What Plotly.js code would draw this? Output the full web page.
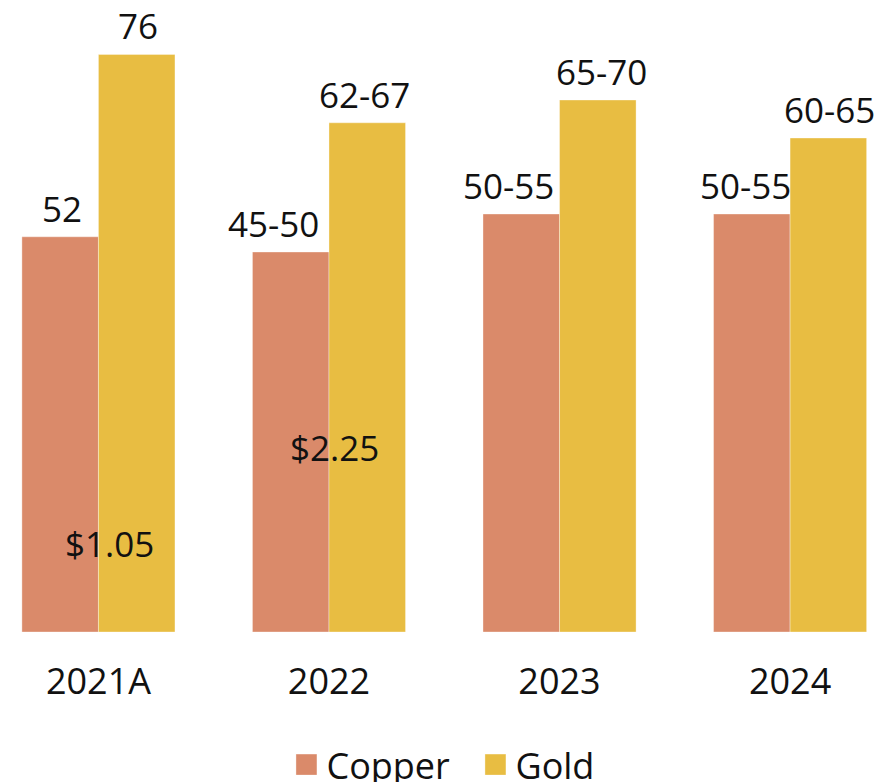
<!DOCTYPE html>
<html>
<head>
<meta charset="utf-8">
<script src="https://cdn.plot.ly/plotly-3.0.1.min.js"></script>
<style>
html,body{margin:0;padding:0;background:#fff;}
#chart{width:874px;height:782px;}
</style>
</head>
<body>
<div id="chart"></div>
<script>
const categories = ["2021A", "2022", "2023", "2024"];
const copperValues = [52, 50, 55, 55];
const goldValues = [76, 67, 70, 65];
const copperLabels = ["52", "45-50", "50-55", "50-55"];
const goldLabels = ["76", "62-67", "65-70", "60-65"];
const noteTexts = ["$1.05", "$2.25"];

const FONT = "Open Sans, Noto Sans, sans-serif";
const COPPER = "#DA8A6A";
const GOLD = "#E8BD42";
const TXT = "#111";
const BARGAP = 0.336;
const HALF = (1 - BARGAP) / 4;   // offset of each bar centre from the category centre

// small horizontal nudges (px) of the value labels, as placed in the original
const copperNudge = [2, -17, -13, -6];
const goldNudge = [1, -3, 4, 1];

const traces = [
  {
    type: "bar", name: "Copper", x: categories, y: copperValues,
    marker: {color: COPPER, line: {color: "rgba(255,255,255,0.35)", width: 1}},
    hoverinfo: "x+y"
  },
  {
    type: "bar", name: "Gold", x: categories, y: goldValues,
    marker: {color: GOLD, line: {color: "rgba(255,255,255,0.35)", width: 1}},
    hoverinfo: "x+y"
  }
];

const annotations = [];
categories.forEach((c, i) => {
  annotations.push({x: i - HALF, y: copperValues[i], xref: "x", yref: "y", text: copperLabels[i],
    showarrow: false, yanchor: "bottom", xshift: copperNudge[i], yshift: 3,
    font: {family: FONT, size: 35, color: TXT}});
  annotations.push({x: i + HALF, y: goldValues[i], xref: "x", yref: "y", text: goldLabels[i],
    showarrow: false, yanchor: "bottom", xshift: goldNudge[i], yshift: 3,
    font: {family: FONT, size: 35, color: TXT}});
});
annotations.push({x: 0.05, y: 11.7, xref: "x", yref: "y", text: noteTexts[0], showarrow: false,
  font: {family: FONT, size: 35, color: TXT}});
annotations.push({x: 1.022, y: 24.3, xref: "x", yref: "y", text: noteTexts[1], showarrow: false,
  font: {family: FONT, size: 35, color: TXT}});

const layout = {
  width: 874, height: 782,
  margin: {l: 0, r: 0, t: 0, b: 150, autoexpand: false},
  paper_bgcolor: "#fff", plot_bgcolor: "#fff",
  font: {family: FONT, color: TXT},
  barmode: "group", bargap: BARGAP, bargroupgap: 0,
  xaxis: {
    type: "category", range: [-0.427, 3.364], showgrid: false, zeroline: false,
    showline: false, ticks: "", tickfont: {family: FONT, size: 36, color: TXT},
    ticklabelstandoff: 25
  },
  yaxis: {range: [0, 83.16], visible: false, showgrid: false, zeroline: false},
  showlegend: true,
  legend: {
    orientation: "h", x: 0.544, xanchor: "center", y: -0.21, yanchor: "middle",
    entrywidth: 144,
    font: {family: FONT, size: 36, color: TXT}, itemclick: false
  },
  annotations: annotations
};

Plotly.newPlot("chart", traces, layout, {displayModeBar: false, staticPlot: true}).then(gd => {
  gd.querySelectorAll(".legend .legendpoints path").forEach(p => {
    p.setAttribute("d", "M10.5,10.5H-10.5V-10.5H10.5Z");
  });
});
</script>
</body>
</html>
